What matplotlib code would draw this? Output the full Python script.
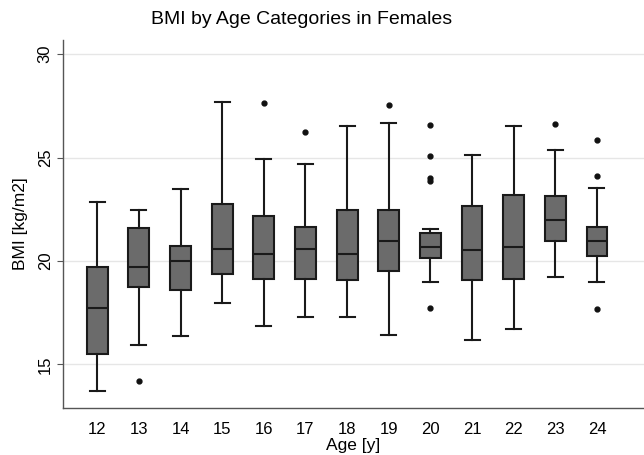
import numpy as np
import matplotlib.pyplot as plt

plt.rcParams['font.family'] = ['Liberation Sans', 'DejaVu Sans']

ages = [12, 13, 14, 15, 16, 17, 18, 19, 20, 21, 22, 23, 24]
# box stats: whisker low, q1, median, q3, whisker high
whislo = [13.71, 15.94, 16.39, 17.95, 16.84, 17.29, 17.29, 16.42, 18.98, 16.18, 16.73, 19.21, 18.98]
q1 = [15.52, 18.74, 18.61, 19.39, 19.15, 19.15, 19.08, 19.50, 20.13, 19.08, 19.11, 20.97, 20.24]
med = [17.74, 19.71, 20.00, 20.56, 20.34, 20.56, 20.34, 20.98, 20.69, 20.53, 20.66, 21.98, 20.98]
q3 = [19.71, 21.58, 20.74, 22.76, 22.19, 21.63, 22.47, 22.47, 21.37, 22.68, 23.21, 23.13, 21.63]
whishi = [22.84, 22.48, 23.47, 27.68, 24.92, 24.68, 26.53, 26.66, 21.56, 25.13, 26.53, 25.37, 23.53]
outliers = [
    [],
    [14.19],
    [],
    [],
    [27.63],
    [26.23],
    [],
    [27.55],
    [26.56, 25.08, 24.03, 23.87, 17.73],
    [],
    [],
    [26.64],
    [25.85, 24.10, 17.68],
]

stats = []
for i in range(len(ages)):
    stats.append(dict(whislo=whislo[i], q1=q1[i], med=med[i], q3=q3[i],
                      whishi=whishi[i], fliers=outliers[i]))

fig = plt.figure(figsize=(6.44, 4.55), dpi=100)
ax = fig.add_axes([0.098, 0.103, 0.902, 0.81])

ax.bxp(stats, positions=ages, widths=0.5, capwidths=0.36, patch_artist=True,
       boxprops=dict(facecolor='#6b6b6b', edgecolor='#1a1a1a', linewidth=1.5),
       medianprops=dict(color='#1a1a1a', linewidth=1.5),
       whiskerprops=dict(color='#1a1a1a', linewidth=1.5),
       capprops=dict(color='#1a1a1a', linewidth=1.5),
       flierprops=dict(marker='o', markerfacecolor='#111111', markeredgecolor='#111111',
                       markersize=3.5))

ax.set_xlim(11.18, 25.13)
ax.set_ylim(12.89, 30.7)
ax.set_yticks([15, 20, 25, 30])
ax.set_xticks(ages)
ax.set_xticklabels([str(a) for a in ages])
ax.yaxis.grid(True, color='#e6e6e6', linewidth=1.0)
ax.set_axisbelow(True)

for s in ['top', 'right']:
    ax.spines[s].set_visible(False)
for s in ['left', 'bottom']:
    ax.spines[s].set_color('#555555')
    ax.spines[s].set_linewidth(1.0)

ax.tick_params(axis='x', length=0, pad=10, labelsize=12)
ax.tick_params(axis='y', length=4, color='#555555', labelsize=12)
for lbl in ax.get_yticklabels():
    lbl.set_rotation(90)
    lbl.set_va('center')

ax.set_xlabel('Age [y]', fontsize=12.5, labelpad=1)
ax.set_ylabel('BMI [kg/m2]', fontsize=12.5, labelpad=7)
fig.suptitle('BMI by Age Categories in Females', fontsize=14, x=0.469, y=0.976)

fig.savefig('out.png', dpi=100)
